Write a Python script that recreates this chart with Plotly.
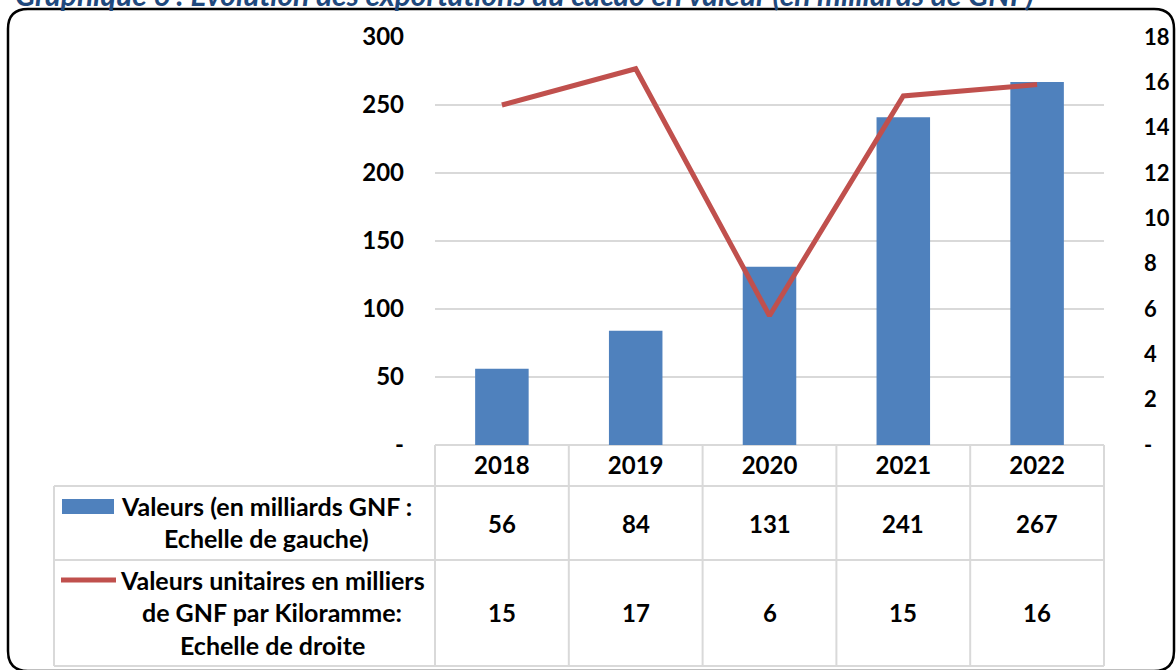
import plotly.graph_objects as go

# ---------------- data ----------------
years = ["2018", "2019", "2020", "2021", "2022"]
export_values = [56, 84, 131, 241, 267]          # milliards GNF (left axis)
unit_values = [15.0, 16.6, 5.7, 15.4, 15.9]      # milliers GNF / kg (right axis)

left_tickvals = [0, 50, 100, 150, 200, 250, 300]
left_ticktext = ["-", "50", "100", "150", "200", "250", "300"]
right_tickvals = [0, 2, 4, 6, 8, 10, 12, 14, 16, 18]
right_ticktext = ["-", "2", "4", "6", "8", "10", "12", "14", "16", "18"]

title_text = "Graphique 6 : Evolution des exportations du cacao en valeur (en milliards de GNF)"
row1_label = ["Valeurs (en milliards GNF :", "Echelle de gauche)"]
row2_label = ["Valeurs unitaires en milliers", "de GNF par Kiloramme:", "Echelle de droite"]

# ---------------- layout helpers ----------------
W, H = 1176, 670
PL, PR, PT, PB = 435, 1104, 37, 445


def px(x):
    return (x - PL) / (PR - PL)


def py(y):
    return (PB - y) / (PB - PT)


BLUE = "#4F81BD"
RED = "#C0504D"
GRID = "#D9D9D9"
FONT = "Lato"

fig = go.Figure()
fig.add_trace(go.Bar(x=years, y=export_values, marker=dict(color=BLUE, line=dict(width=0)),
                     name=row1_label[0], hoverinfo="x+y"))
fig.add_trace(go.Scatter(x=years, y=unit_values, yaxis="y2", mode="lines",
                         line=dict(color=RED, width=5), name=row2_label[0]))

shapes = []


def hline(y, x0, x1):
    shapes.append(dict(type="line", xref="paper", yref="paper", x0=px(x0), x1=px(x1),
                       y0=py(y), y1=py(y), line=dict(color=GRID, width=2), layer="below"))


def vline(x, y0, y1):
    shapes.append(dict(type="line", xref="paper", yref="paper", x0=px(x), x1=px(x),
                       y0=py(y0), y1=py(y1), line=dict(color=GRID, width=2), layer="below"))


hline(445, 435, 1104)
hline(486, 54, 1104)
hline(560, 54, 1104)
hline(666, 54, 1104)
vline(54, 486, 666)
n = len(years)
for i in range(n + 1):
    vline(PL + (PR - PL) * i / n, 445, 666)

# legend keys in table
shapes.append(dict(type="rect", xref="paper", yref="paper", x0=px(62), x1=px(114),
                   y0=py(514), y1=py(499), fillcolor=BLUE, line=dict(width=0)))
shapes.append(dict(type="line", xref="paper", yref="paper", x0=px(61), x1=px(116),
                   y0=py(580), y1=py(580), line=dict(color=RED, width=5)))

# rounded outer frame
bx0, bx1, by0, by1, r = 8, 1174, 9, 671, 20
path = (f"M {px(bx0 + r)},{py(by0)} L {px(bx1 - r)},{py(by0)} "
        f"Q {px(bx1)},{py(by0)} {px(bx1)},{py(by0 + r)} "
        f"L {px(bx1)},{py(by1 - r)} Q {px(bx1)},{py(by1)} {px(bx1 - r)},{py(by1)} "
        f"L {px(bx0 + r)},{py(by1)} Q {px(bx0)},{py(by1)} {px(bx0)},{py(by1 - r)} "
        f"L {px(bx0)},{py(by0 + r)} Q {px(bx0)},{py(by0)} {px(bx0 + r)},{py(by0)} Z")
shapes.append(dict(type="path", xref="paper", yref="paper", path=path,
                   line=dict(color="black", width=2.5)))

annotations = []
tfont = dict(family=FONT, size=24, color="black", weight="bold")
rfont = dict(family=FONT, size=22, color="black", weight="bold")
lfont = dict(family=FONT, size=25, color="black", weight="bold")


def text_at(x, y, t, xref="paper", font=tfont):
    annotations.append(dict(x=x, y=py(y), xref=xref, yref="paper", text=t, showarrow=False,
                            xanchor="center", yanchor="middle", font=font))


# row labels
for t, y in zip(row1_label, [506, 538]):
    text_at(px(266), y, t, font=lfont)
for t, y in zip(row2_label, [580, 612, 645]):
    text_at(px(272), y, t, font=lfont)

# table values (category index on the x axis)
for i, v in enumerate(export_values):
    text_at(i, 523, f"{round(v)}", xref="x")
for i, v in enumerate(unit_values):
    text_at(i, 612, f"{round(v)}", xref="x")

# title (cut off at the top as in the source)
annotations.append(dict(x=px(13), y=py(-6), xref="paper", yref="paper", text=title_text,
                        showarrow=False, xanchor="left", yanchor="middle",
                        font=dict(family=FONT, size=30, color="#1F497D", weight="bold",
                                  style="italic")))

fig.update_layout(
    width=W, height=H,
    margin=dict(l=PL, r=W - PR, t=PT, b=H - PB, pad=0, autoexpand=False),
    paper_bgcolor="white", plot_bgcolor="white",
    showlegend=False,
    bargap=0.6,
    font=dict(family=FONT, size=24, color="black", weight="bold"),
    xaxis=dict(type="category", range=[-0.5, n - 0.5], showgrid=False, showline=False,
               ticks="", ticklabelstandoff=4, tickfont=tfont, zeroline=False,
               automargin=False),
    yaxis=dict(range=[0, 300], tickvals=left_tickvals, ticktext=left_ticktext,
               showgrid=True, gridcolor=GRID, gridwidth=2, zeroline=False, showline=False,
               ticks="", ticklabelstandoff=30, tickfont=tfont, automargin=False),
    yaxis2=dict(range=[0, 18], tickvals=right_tickvals, ticktext=right_ticktext,
                overlaying="y", side="right", showgrid=False, zeroline=False, showline=False,
                ticks="", ticklabelstandoff=39, tickfont=rfont, automargin=False),
    shapes=shapes,
    annotations=annotations,
)

fig.write_html("out.html", config={"displayModeBar": False},
               post_script="document.body.style.margin='0';document.body.style.overflow='hidden';")
